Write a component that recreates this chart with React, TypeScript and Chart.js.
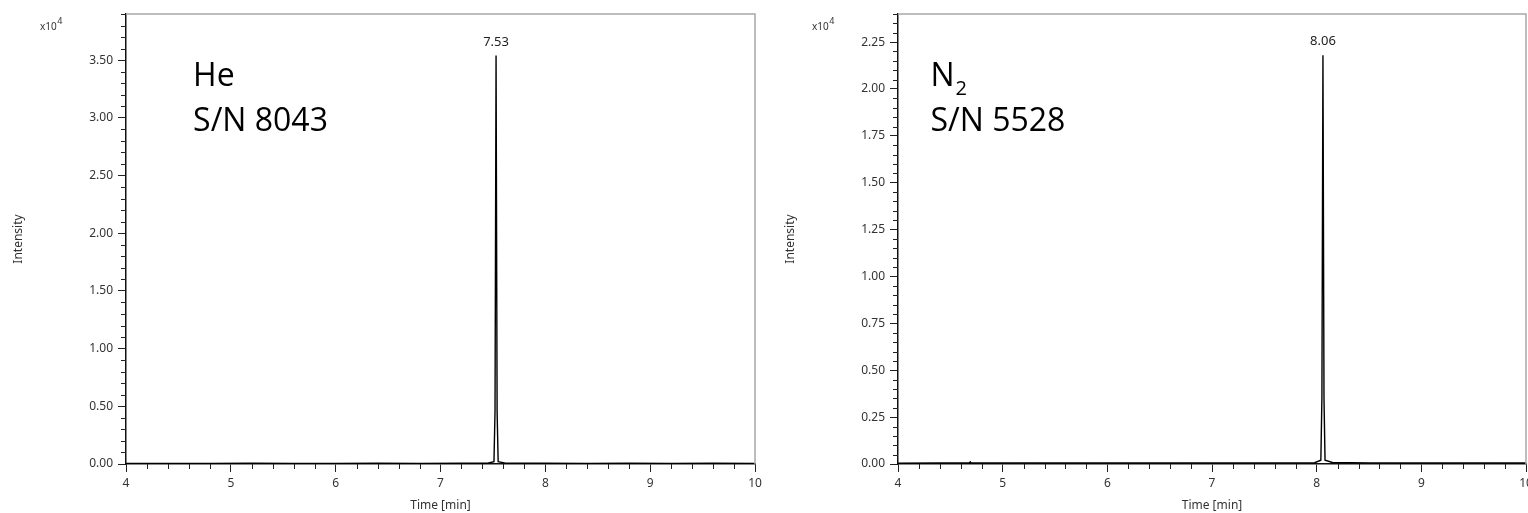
import React, { useEffect, useRef } from "react";
import { Chart, registerables } from "chart.js";

Chart.register(...registerables);

// ---- Data (intensity in units of x10^4) ----
const heTime = [4.0, 4.4, 4.8, 5.2, 5.6, 6.0, 6.4, 6.8, 7.2, 7.45, 7.51, 7.52, 7.53, 7.54, 7.55, 7.62, 8.0, 8.4, 8.8, 9.2, 9.6, 10.0];
const heIntensity = [0.004, 0.005, 0.004, 0.006, 0.005, 0.004, 0.006, 0.005, 0.006, 0.007, 0.02, 0.45, 3.54, 0.45, 0.02, 0.008, 0.006, 0.005, 0.006, 0.005, 0.006, 0.005];

const n2Time = [4.0, 4.4, 4.68, 4.69, 4.70, 5.2, 5.6, 6.0, 6.4, 6.8, 7.2, 7.6, 7.98, 8.04, 8.05, 8.06, 8.07, 8.08, 8.15, 8.5, 9.0, 9.5, 10.0];
const n2Intensity = [0.004, 0.005, 0.005, 0.012, 0.005, 0.006, 0.005, 0.006, 0.005, 0.006, 0.005, 0.006, 0.007, 0.02, 0.35, 2.18, 0.35, 0.02, 0.008, 0.006, 0.005, 0.006, 0.005];

const xTicks = [4, 5, 6, 7, 8, 9, 10];
const heYTicks = [0, 0.5, 1.0, 1.5, 2.0, 2.5, 3.0, 3.5];
const n2YTicks = [0, 0.25, 0.5, 0.75, 1.0, 1.25, 1.5, 1.75, 2.0, 2.25];

const hePeakLabel = "7.53";
const n2PeakLabel = "8.06";
const heGasLabel = "He";
const n2GasLabel = "N";
const n2GasSub = "2";
const heSN = "S/N 8043";
const n2SN = "S/N 5528";

const TICK_FONT = '"Noto Sans", "Open Sans", sans-serif';
const BIG_FONT = '"Open Sans", "Noto Sans", sans-serif';

interface PanelCfg {
  time: number[];
  intensity: number[];
  yTicks: number[];
  yMax: number;
  yMinorStep: number;
  yAxisWidth: number;
  padRight: number;
  yTitlePad: number;
  peakTime: number;
  peakValue: number;
  peakLabel: string;
  gasLabel: string;
  gasSub: string;
  snLabel: string;
  annotX: number;
}

function makeChart(canvas: HTMLCanvasElement, cfg: PanelCfg) {
  const decor = {
    id: "decor",
    afterDraw(chart: any) {
      const ctx = chart.ctx as CanvasRenderingContext2D;
      const a = chart.chartArea;
      const xs = chart.scales.x;
      const ys = chart.scales.y;
      ctx.save();
      // top & right frame
      ctx.strokeStyle = "#a8a8a8";
      ctx.lineWidth = 1.5;
      ctx.beginPath();
      ctx.moveTo(a.left, a.top);
      ctx.lineTo(a.right, a.top);
      ctx.lineTo(a.right, a.bottom);
      ctx.stroke();
      // minor ticks
      ctx.strokeStyle = "#222";
      ctx.lineWidth = 1;
      ctx.beginPath();
      for (let v = 4; v <= 10 + 1e-9; v += 0.2) {
        const r = Math.round(v * 1000) / 1000;
        if (Math.abs(r - Math.round(r)) < 1e-6) continue;
        const px = Math.round(xs.getPixelForValue(r)) + 0.5;
        ctx.moveTo(px, a.bottom);
        ctx.lineTo(px, a.bottom + 5);
      }
      for (let v = 0; v <= cfg.yMax + 1e-9; v += cfg.yMinorStep) {
        const r = Math.round(v * 1000) / 1000;
        if (cfg.yTicks.some((t) => Math.abs(t - r) < 1e-6)) continue;
        const py = Math.round(ys.getPixelForValue(r)) + 0.5;
        ctx.moveTo(a.left - 5, py);
        ctx.lineTo(a.left, py);
      }
      ctx.stroke();
      // x10^4
      ctx.fillStyle = "#333";
      ctx.textBaseline = "alphabetic";
      ctx.textAlign = "left";
      ctx.font = `10px ${TICK_FONT}`;
      const bx = a.left - 86;
      ctx.fillText("x10", bx, a.top + 16);
      const w = ctx.measureText("x10").width;
      ctx.font = `9px ${TICK_FONT}`;
      ctx.fillText("4", bx + w + 0.5, a.top + 10);
      // peak label
      ctx.font = `13px ${TICK_FONT}`;
      ctx.textAlign = "center";
      ctx.fillStyle = "#222";
      ctx.fillText(cfg.peakLabel, xs.getPixelForValue(cfg.peakTime), ys.getPixelForValue(cfg.peakValue) - 10);
      // big annotation
      ctx.textAlign = "left";
      ctx.fillStyle = "#000";
      ctx.font = `32px ${BIG_FONT}`;
      const ax = xs.getPixelForValue(cfg.annotX);
      ctx.fillText(cfg.gasLabel, ax, a.top + 72);
      if (cfg.gasSub) {
        const gw = ctx.measureText(cfg.gasLabel).width;
        ctx.font = `20px ${BIG_FONT}`;
        ctx.fillText(cfg.gasSub, ax + gw + 1, a.top + 81);
        ctx.font = `32px ${BIG_FONT}`;
      }
      ctx.fillText(cfg.snLabel, ax, a.top + 117);
      ctx.restore();
    },
  };

  const points = cfg.time.map((t, i) => ({ x: t, y: cfg.intensity[i] }));

  return new Chart(canvas, {
    type: "line",
    data: {
      datasets: [
        {
          data: points,
          borderColor: "#000",
          borderWidth: 1.4,
          pointRadius: 0,
          tension: 0,
          fill: false,
        },
      ],
    },
    options: {
      animation: false,
      responsive: false,
      maintainAspectRatio: false,
      layout: { padding: { top: 14, right: cfg.padRight, left: 0, bottom: 0 } },
      plugins: { legend: { display: false }, tooltip: { enabled: false } },
      scales: {
        x: {
          type: "linear",
          min: 4,
          max: 10,
          afterBuildTicks: (s: any) => {
            s.ticks = xTicks.map((v) => ({ value: v }));
          },
          afterFit: (s: any) => {
            s.height = 49;
            s.paddingLeft = 0;
            s.paddingRight = 0;
          },
          ticks: {
            callback: (v: any) => String(v),
            font: { family: TICK_FONT, size: 12 },
            color: "#333",
            padding: 4,
            maxRotation: 0,
            autoSkip: false,
          },
          grid: { drawOnChartArea: false, drawTicks: true, tickLength: 8, color: "#222", lineWidth: 1 },
          border: { display: true, color: "#111", width: 1.5 },
          title: {
            display: true,
            text: "Time [min]",
            font: { family: TICK_FONT, size: 12 },
            color: "#333",
            padding: { top: 0, bottom: 0 },
          },
        },
        y: {
          type: "linear",
          min: 0,
          max: cfg.yMax,
          afterBuildTicks: (s: any) => {
            s.ticks = cfg.yTicks.map((v) => ({ value: v }));
          },
          afterFit: (s: any) => {
            s.width = cfg.yAxisWidth;
            s.paddingTop = 0;
            s.paddingBottom = 0;
          },
          ticks: {
            callback: (v: any) => Number(v).toFixed(2),
            font: { family: TICK_FONT, size: 12 },
            color: "#333",
            padding: 5,
            autoSkip: false,
          },
          grid: { drawOnChartArea: false, drawTicks: true, tickLength: 8, color: "#222", lineWidth: 1 },
          border: { display: true, color: "#111", width: 1.5 },
          title: {
            display: true,
            text: "Intensity",
            font: { family: TICK_FONT, size: 12 },
            color: "#333",
            padding: { top: cfg.yTitlePad - 1, bottom: 0 },
          },
        },
      },
    },
    plugins: [decor],
  });
}

function Panel({ cfg, left, width }: { cfg: PanelCfg; left: number; width: number }) {
  const ref = useRef<HTMLCanvasElement | null>(null);
  useEffect(() => {
    if (!ref.current) return;
    const c = makeChart(ref.current, cfg);
    return () => c.destroy();
  }, []);
  return (
    <canvas
      ref={ref}
      width={width}
      height={513}
      style={{ position: "absolute", left, top: 0, width, height: 513, display: "block" }}
    />
  );
}

export default function App() {
  const heCfg: PanelCfg = {
    time: heTime,
    intensity: heIntensity,
    yTicks: heYTicks,
    yMax: 3.9,
    yMinorStep: 0.1,
    yAxisWidth: 126,
    padRight: 9,
    yTitlePad: 12,
    peakTime: 7.53,
    peakValue: 3.54,
    peakLabel: hePeakLabel,
    gasLabel: heGasLabel,
    gasSub: "",
    snLabel: heSN,
    annotX: 4.64,
  };
  const n2Cfg: PanelCfg = {
    time: n2Time,
    intensity: n2Intensity,
    yTicks: n2YTicks,
    yMax: 2.4,
    yMinorStep: 0.05,
    yAxisWidth: 134,
    padRight: 2,
    yTitlePad: 20,
    peakTime: 8.06,
    peakValue: 2.18,
    peakLabel: n2PeakLabel,
    gasLabel: n2GasLabel,
    gasSub: n2GasSub,
    snLabel: n2SN,
    annotX: 4.31,
  };
  return (
    <div style={{ position: "absolute", left: 0, top: 0, width: 1528, height: 513, background: "#fff", overflow: "hidden" }}>
      <Panel cfg={heCfg} left={0} width={764} />
      <Panel cfg={n2Cfg} left={764} width={764} />
    </div>
  );
}
